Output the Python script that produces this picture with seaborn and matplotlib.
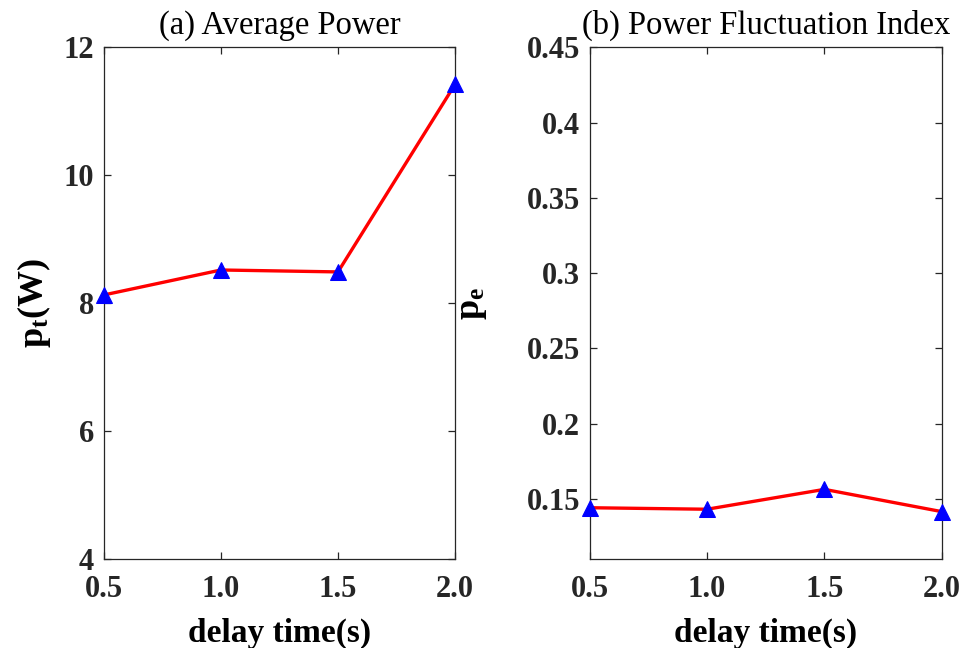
import matplotlib
matplotlib.use("Agg")
import matplotlib.pyplot as plt
import seaborn as sns
import pandas as pd
from matplotlib.ticker import FixedLocator, FixedFormatter

sns.set_style("ticks")
plt.rcParams["font.family"] = ["Liberation Serif", "DejaVu Serif"]
plt.rcParams["mathtext.fontset"] = "custom"
plt.rcParams["mathtext.bf"] = "Liberation Serif:bold"
plt.rcParams["mathtext.rm"] = "Liberation Serif:bold"
plt.rcParams["mathtext.default"] = "bf"

# delay time (s)
delay = [0.5, 1.0, 1.5, 2.0]
# (a) average power (W)
avg_power = [8.13, 8.52, 8.49, 11.42]
# (b) power fluctuation index
fluct_index = [0.1442, 0.1432, 0.1564, 0.1416]

x_ticks = [0.5, 1.0, 1.5, 2.0]
x_tick_labels = ["0.5", "1.0", "1.5", "2.0"]
left_y_ticks = [4, 6, 8, 10, 12]
right_y_ticks = [0.15, 0.2, 0.25, 0.3, 0.35, 0.4, 0.45]
right_y_labels = ["0.15", "0.2", "0.25", "0.3", "0.35", "0.4", "0.45"]

df_a = pd.DataFrame({"delay": delay, "value": avg_power})
df_b = pd.DataFrame({"delay": delay, "value": fluct_index})

fig = plt.figure(figsize=(9.62, 6.48), dpi=100)
ax1 = fig.add_axes([0.108, 0.137, 0.365, 0.790])
ax2 = fig.add_axes([0.613, 0.137, 0.366, 0.790])

spine_col = "#262626"
for ax, df in ((ax1, df_a), (ax2, df_b)):
    sns.lineplot(data=df, x="delay", y="value", ax=ax, color="red",
                 linewidth=2.4, marker="^", markersize=12,
                 markerfacecolor="blue", markeredgecolor="blue",
                 clip_on=False, zorder=3)
    ax.set_xlim(0.5, 2.0)
    ax.xaxis.set_major_locator(FixedLocator(x_ticks))
    ax.xaxis.set_major_formatter(FixedFormatter(x_tick_labels))
    ax.tick_params(direction="in", top=True, right=True, length=5,
                   width=0.9, color=spine_col, labelsize=22,
                   labelcolor=spine_col)
    ax.tick_params(axis="x", pad=11)
    ax.tick_params(axis="y", pad=7)
    for sp in ax.spines.values():
        sp.set_visible(True)
        sp.set_color(spine_col)
        sp.set_linewidth(0.9)
    ax.set_xlabel("delay time(s)", fontsize=24, fontweight="bold",
                  color="black", labelpad=10)

ax1.set_ylim(4, 12)
ax1.yaxis.set_major_locator(FixedLocator(left_y_ticks))
ax1.yaxis.set_major_formatter(FixedFormatter([str(v) for v in left_y_ticks]))
ax1.set_ylabel("p$_{t}$(W)", fontsize=26, fontweight="bold", color="black",
               labelpad=8)
ax1.set_title("(a) Average Power", fontsize=23.5, color="black", pad=10)

ax2.set_ylim(0.11, 0.45)
ax2.yaxis.set_major_locator(FixedLocator(right_y_ticks))
ax2.yaxis.set_major_formatter(FixedFormatter(right_y_labels))
ax2.set_ylabel("p$_{e}$", fontsize=26, fontweight="bold", color="black",
               labelpad=27)
ax2.set_title("(b) Power Fluctuation Index", fontsize=23.5, color="black",
              pad=10)

for ax in (ax1, ax2):
    for lab in ax.get_xticklabels() + ax.get_yticklabels():
        lab.set_fontweight("bold")

fig.savefig("out.png", dpi=100, facecolor="white")
